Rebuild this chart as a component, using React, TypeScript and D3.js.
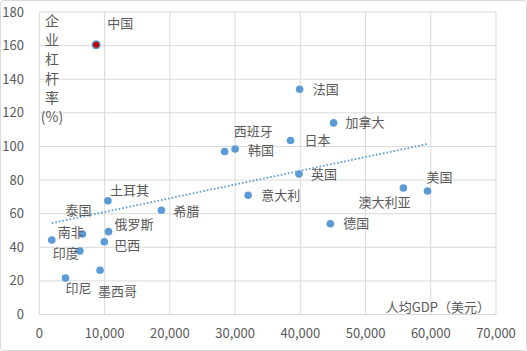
import * as d3 from 'd3'

const countries = ['中国', '法国', '加拿大', '日本', '韩国', '西班牙', '英国', '意大利', '澳大利亚', '美国', '德国', '希腊', '土耳其', '俄罗斯', '泰国', '印度', '南非', '巴西', '墨西哥', '印尼']
const gdpPerCapita = [8700, 39900, 45100, 38500, 30000, 28400, 39800, 32000, 55800, 59500, 44600, 18700, 10500, 10600, 6600, 1900, 6200, 9950, 9300, 4000]
const leverage = [160.5, 134, 114, 103.5, 98.5, 97, 83.6, 71, 75.3, 73.5, 54, 62, 67.7, 49.3, 47.9, 44.3, 37.8, 43.3, 26.3, 21.7]

// label placement relative to the point (px)
const labelDx = [11, 13, 12, 14, 13, 9, 12, 13, -45, -1, 13, 12, 2, 6, -17, 1, -22, 10, -2, 0]
const labelDy = [-21, 0, 0, 0, 1, -20, 0, 0, 14, -14, 0, 1, -10, -7, -24, 13, -19, 4, 21, 10]

const xTicks = [0, 10000, 20000, 30000, 40000, 50000, 60000, 70000]
const yTicks = [0, 20, 40, 60, 80, 100, 120, 140, 160, 180]
const yTitle = ['企', '业', '杠', '杆', '率', '(%)']

const W = 527
const H = 351
const font = '"Noto Sans CJK SC", "Noto Sans", sans-serif'
const grey = '#595959'
const blue = '#5B9BD5'

export default function App() {
  const x = d3.scaleLinear().domain([0, 70000]).range([39.4, 496])
  const y = d3.scaleLinear().domain([0, 180]).range([314.5, 12])

  // least-squares trendline
  const mx = d3.mean(gdpPerCapita)!
  const my = d3.mean(leverage)!
  const sxy = d3.sum(gdpPerCapita, (v, i) => (v - mx) * (leverage[i] - my))
  const sxx = d3.sum(gdpPerCapita, v => (v - mx) ** 2)
  const slope = sxy / sxx
  const icpt = my - slope * mx
  const [x0, x1] = d3.extent(gdpPerCapita) as [number, number]
  const trend = d3.line<number>().x(d => x(d)).y(d => y(icpt + slope * d))([x0, x1])!

  return (
    <div style={{ position: 'absolute', left: 0, top: 0 }}>
      <svg width={W} height={H} style={{ display: 'block', fontFamily: font }}>
        <rect x={0} y={0} width={W} height={H} fill="#fff" />
        <rect x={0.5} y={0.5} width={W - 1} height={H - 1} rx={3} fill="none" stroke="#d9d9d9" />
        {yTicks.map(t => (
          <line key={'gy' + t} x1={x(0)} x2={x(70000)} y1={y(t)} y2={y(t)} stroke="#d9d9d9" />
        ))}
        {xTicks.map(t => (
          <line key={'gx' + t} x1={x(t)} x2={x(t)} y1={y(0)} y2={y(180)} stroke="#d9d9d9" />
        ))}
        {yTicks.map(t => (
          <text key={'ty' + t} x={24} y={y(t)} dy="0.35em" textAnchor="end" fontSize={13} fill={grey}>{t}</text>
        ))}
        {xTicks.map(t => (
          <text key={'tx' + t} x={x(t)} y={333} dy="0.35em" textAnchor="middle" fontSize={13} fill={grey}>{d3.format(',')(t)}</text>
        ))}
        {yTitle.map((c, i) => (
          <text key={'yt' + i} x={52} y={21 + i * 19.2} dy="0.35em" textAnchor="middle" fontSize={14} fill={grey}>{c}</text>
        ))}
        <text x={490} y={307} dy="0.35em" textAnchor="end" fontSize={13} fill={grey}>人均GDP（美元）</text>
        <path d={trend} fill="none" stroke={blue} strokeWidth={1.8} strokeDasharray="1.6 2" />
        {countries.map((c, i) => (
          <circle key={'p' + c} cx={x(gdpPerCapita[i])} cy={y(leverage[i])} r={3.8}
            fill={i === 0 ? '#C00000' : blue} stroke={blue} strokeWidth={i === 0 ? 1.5 : 0} />
        ))}
        {countries.map((c, i) => (
          <text key={'l' + c} x={x(gdpPerCapita[i]) + labelDx[i]} y={y(leverage[i]) + labelDy[i]} dy="0.35em"
            fontSize={13} fill={grey}>{c}</text>
        ))}
      </svg>
    </div>
  )
}
